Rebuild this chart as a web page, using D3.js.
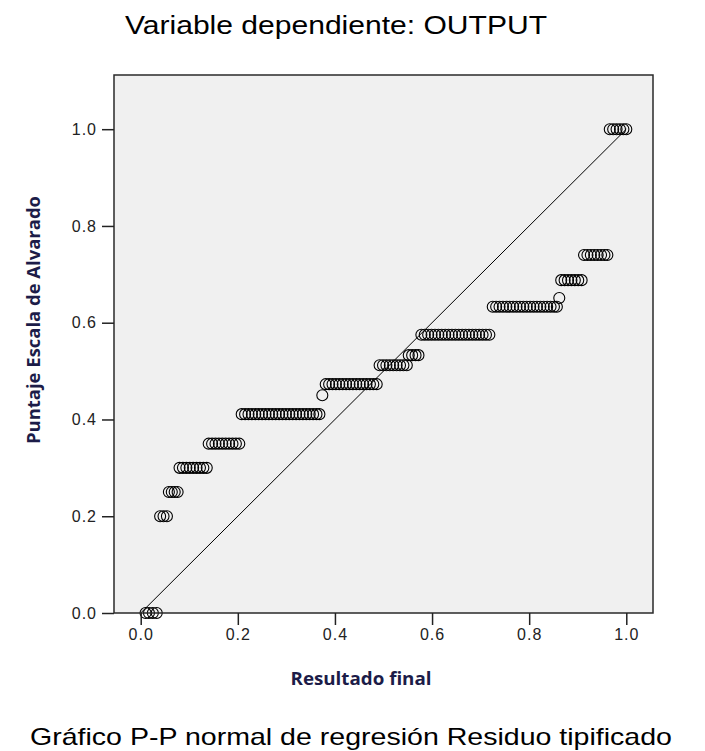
<!DOCTYPE html>
<html>
<head>
<meta charset="utf-8">
<script src="https://cdn.jsdelivr.net/npm/d3@7"></script>
<style>
  html, body { margin: 0; padding: 0; background: #fff; }
  svg { display: block; }
</style>
</head>
<body>
<svg id="chart" width="705" height="751"></svg>
<script>
// ---- Data ----
const chartTitle = "Variable dependiente: OUTPUT";
const footTitle = "Gráfico P-P normal de regresión Residuo tipificado";
const xAxisLabel = "Resultado final";
const yAxisLabel = "Puntaje Escala de Alvarado";
const tickValues = [0, 0.2, 0.4, 0.6, 0.8, 1.0];

// y level of each step group
const yLevels = [0.0, 0.20, 0.25, 0.30, 0.35, 0.411, 0.45, 0.473, 0.512, 0.533, 0.575, 0.633, 0.651, 0.688, 0.74, 1.0];
// x values of the points in each group
const xGroups = [
  [0.010, 0.017, 0.025, 0.033],
  [0.040, 0.047, 0.054],
  [0.058, 0.064, 0.070, 0.076],
  [0.080, 0.087, 0.094, 0.101, 0.108, 0.115, 0.122, 0.129, 0.136],
  [0.140, 0.147, 0.154, 0.161, 0.168, 0.175, 0.182, 0.189, 0.196, 0.203],
  [0.208, 0.215, 0.222, 0.229, 0.236, 0.243, 0.250, 0.257, 0.264, 0.271, 0.278, 0.285,
   0.292, 0.299, 0.306, 0.313, 0.320, 0.327, 0.334, 0.341, 0.348, 0.355, 0.362, 0.368],
  [0.374],
  [0.381, 0.388, 0.395, 0.402, 0.409, 0.416, 0.423, 0.430, 0.437, 0.444, 0.451, 0.458,
   0.465, 0.472, 0.479, 0.486],
  [0.492, 0.499, 0.506, 0.513, 0.520, 0.527, 0.534, 0.541, 0.548],
  [0.552, 0.559, 0.566, 0.572],
  [0.578, 0.585, 0.592, 0.599, 0.606, 0.613, 0.620, 0.627, 0.634, 0.641, 0.648, 0.655,
   0.662, 0.669, 0.676, 0.683, 0.690, 0.697, 0.704, 0.711, 0.718],
  [0.725, 0.732, 0.739, 0.746, 0.753, 0.760, 0.767, 0.774, 0.781, 0.788, 0.795, 0.802,
   0.809, 0.816, 0.823, 0.830, 0.837, 0.844, 0.851, 0.857],
  [0.862],
  [0.866, 0.873, 0.880, 0.887, 0.894, 0.901, 0.908],
  [0.913, 0.920, 0.927, 0.934, 0.941, 0.948, 0.955, 0.961],
  [0.966, 0.973, 0.980, 0.987, 0.994, 1.000]
];
const refLine = [[0, 0], [1, 1]];

// ---- Layout ----
const plot = { left: 114, right: 653, top: 75, bottom: 613 };
const svg = d3.select("#chart");
const x = d3.scaleLinear().domain([-0.055, 1.055]).range([plot.left, plot.right]);
const y = d3.scaleLinear().domain([0, 1.112]).range([plot.bottom, plot.top]);

// plot background
svg.append("rect")
  .attr("x", plot.left).attr("y", plot.top)
  .attr("width", plot.right - plot.left).attr("height", plot.bottom - plot.top)
  .attr("fill", "#f0f0f0");

// reference diagonal
svg.append("path")
  .attr("d", d3.line().x(d => x(d[0])).y(d => y(d[1]))(refLine))
  .attr("fill", "none").attr("stroke", "#000").attr("stroke-width", 1);

// points
const pts = [];
yLevels.forEach((lv, i) => xGroups[i].forEach(v => pts.push({ x: v, y: lv })));
svg.append("g").selectAll("circle").data(pts).join("circle")
  .attr("cx", d => x(d.x)).attr("cy", d => y(d.y)).attr("r", 5.5)
  .attr("fill", "none").attr("stroke", "#000").attr("stroke-width", 1.1);

// frame
svg.append("rect")
  .attr("x", plot.left).attr("y", plot.top)
  .attr("width", plot.right - plot.left).attr("height", plot.bottom - plot.top)
  .attr("fill", "none").attr("stroke", "#2a2a2a").attr("stroke-width", 1.5);

// axes
const fmt = d3.format(".1f");
const gx = svg.append("g").attr("transform", `translate(0,${plot.bottom})`)
  .call(d3.axisBottom(x).tickValues(tickValues).tickFormat(fmt).tickSize(12).tickSizeOuter(0).tickPadding(4));
const gy = svg.append("g").attr("transform", `translate(${plot.left},0)`)
  .call(d3.axisLeft(y).tickValues(tickValues).tickFormat(fmt).tickSize(12).tickSizeOuter(0).tickPadding(5));
[gx, gy].forEach(g => {
  g.select(".domain").remove();
  g.selectAll(".tick line").attr("stroke", "#222").attr("stroke-width", 1.5);
  g.selectAll(".tick text").attr("fill", "#222")
    .style("font-family", "'Liberation Sans', Arial, sans-serif").style("font-size", "16px")
    .style("letter-spacing", "1px");
});

// axis titles
svg.append("text")
  .attr("x", 361).attr("y", 685).attr("text-anchor", "middle")
  .attr("textLength", 141).attr("lengthAdjust", "spacingAndGlyphs")
  .style("font-family", "'Open Sans', 'Liberation Sans', sans-serif")
  .style("font-weight", "bold").style("font-size", "18px")
  .attr("fill", "#1c1c48").text(xAxisLabel);

svg.append("text")
  .attr("transform", "translate(40,320) rotate(-90)").attr("text-anchor", "middle")
  .attr("textLength", 248).attr("lengthAdjust", "spacingAndGlyphs")
  .style("font-family", "'Open Sans', 'Liberation Sans', sans-serif")
  .style("font-weight", "bold").style("font-size", "18px")
  .attr("fill", "#1c1c48").text(yAxisLabel);

// titles
svg.append("text")
  .attr("x", 336).attr("y", 34).attr("text-anchor", "middle")
  .attr("textLength", 422).attr("lengthAdjust", "spacingAndGlyphs")
  .style("font-family", "'Liberation Sans', Arial, sans-serif").style("font-size", "25px")
  .attr("fill", "#000").text(chartTitle);

svg.append("text")
  .attr("x", 351).attr("y", 745).attr("text-anchor", "middle")
  .attr("textLength", 642).attr("lengthAdjust", "spacingAndGlyphs")
  .style("font-family", "'Liberation Sans', Arial, sans-serif").style("font-size", "24px")
  .attr("fill", "#000").text(footTitle);
</script>
</body>
</html>
